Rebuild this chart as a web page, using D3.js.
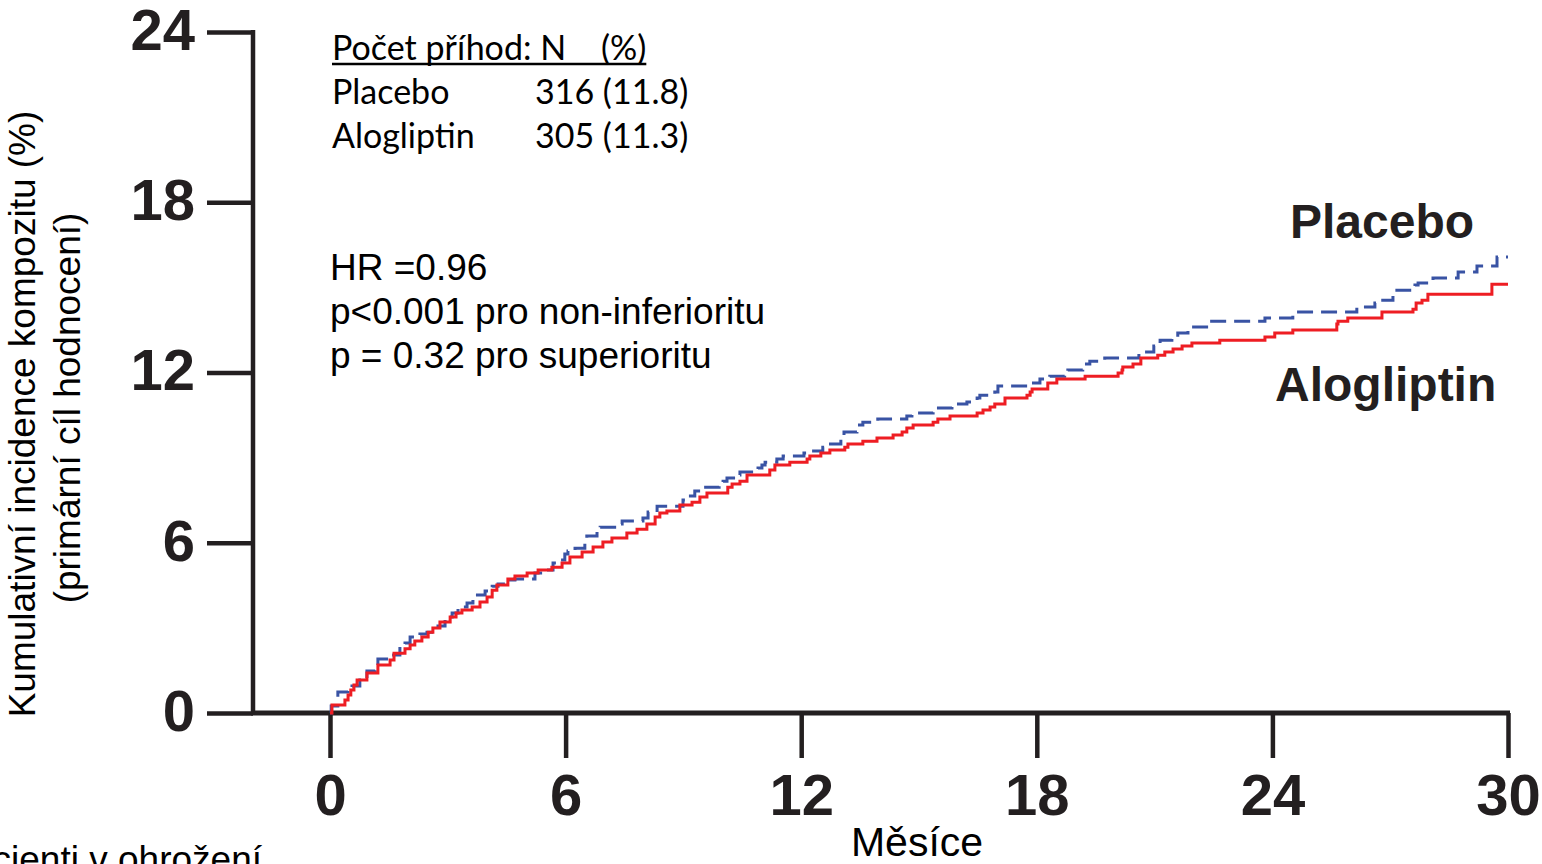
<!DOCTYPE html>
<html>
<head>
<meta charset="utf-8">
<script src="https://cdn.jsdelivr.net/npm/d3@7"></script>
<style>
body{margin:0;background:#fff;}
svg{display:block;}
</style>
</head>
<body>
<div id="chart"></div>
<script>
// osa x: měsíce, osa y: kumulativní incidence (%)
var xTicks = [0, 6, 12, 18, 24, 30];
var yTicks = [0, 6, 12, 18, 24];

// Placebo - schodovitá křivka (čtená z obrázku)
var placeboMonths = [0,0.03,0.20,0.46,0.56,0.76,0.94,1.15,1.22,1.53,1.78,1.91,2.04,2.29,2.47,2.75,2.93,3.11,3.26,3.49,3.64,3.95,4.13,4.28,4.53,4.71,5.22,5.47,5.68,5.78,5.98,6.06,6.24,6.49,6.54,6.80,6.88,7.31,7.44,7.97,8.10,8.33,8.99,9.07,9.29,9.50,9.91,10.01,10.11,10.36,10.44,10.90,11.00,11.08,11.38,11.54,12.07,12.17,12.55,12.66,13.01,13.09,13.42,13.57,13.95,14.69,14.82,15.36,15.41,15.84,16.22,16.48,16.55,16.93,17.01,17.77,18.08,18.33,18.71,18.79,19.17,19.35,19.73,20.60,20.98,21.14,21.44,21.59,21.85,22.41,23.81,24.52,26.15,26.61,26.81,27.07,27.17,27.63,27.71,28.09,28.73,29.21,29.72,30];
var placeboRisk = [0,0.25,0.74,0.85,0.95,1.16,1.48,1.66,1.90,2.04,2.33,2.47,2.68,2.78,2.85,3.07,3.38,3.52,3.74,3.88,4.16,4.30,4.47,4.55,4.69,4.72,4.93,5.04,5.29,5.39,5.60,5.71,5.81,6.10,6.24,6.45,6.55,6.66,6.77,6.87,7.08,7.29,7.51,7.65,7.82,7.96,8.07,8.17,8.28,8.39,8.49,8.63,8.74,8.84,8.95,9.06,9.16,9.23,9.37,9.48,9.73,9.90,10.15,10.25,10.36,10.47,10.57,10.68,10.75,10.89,10.96,11.10,11.20,11.31,11.52,11.63,11.77,11.87,11.98,12.09,12.30,12.40,12.51,12.72,12.93,13.14,13.25,13.39,13.60,13.81,13.92,14.13,14.31,14.45,14.55,14.80,14.90,15.08,15.15,15.33,15.54,15.75,16.07,16.07];

// Alogliptin
var alogliptinMonths = [0,0.05,0.38,0.46,0.53,0.61,0.69,0.94,1.22,1.53,1.63,1.91,2.04,2.16,2.34,2.50,2.62,2.80,3.06,3.21,3.36,3.62,3.82,4.00,4.13,4.25,4.53,4.71,5.02,5.30,5.65,5.91,6.11,6.42,6.70,6.95,7.18,7.56,7.82,8.07,8.28,8.40,8.58,8.91,9.22,9.42,9.60,10.13,10.24,10.44,10.62,11.20,11.33,11.71,12.15,12.22,12.50,12.73,13.11,13.19,13.57,13.93,14.34,14.57,14.69,14.85,15.36,15.48,15.79,16.48,16.63,16.81,16.93,17.19,17.75,17.83,17.88,18.28,18.51,19.23,20.07,20.17,20.19,20.45,20.65,21.08,21.26,21.47,21.70,21.95,22.66,23.81,24.06,24.52,25.64,25.67,25.92,26.79,27.58,27.66,27.81,27.96,29.59,30];
var alogliptinRisk = [0,0.28,0.46,0.63,0.81,0.99,1.16,1.41,1.69,1.87,2.11,2.26,2.40,2.54,2.68,2.85,3.00,3.21,3.38,3.52,3.63,3.74,3.91,4.09,4.33,4.51,4.72,4.83,4.93,5.04,5.14,5.29,5.50,5.67,5.85,6.03,6.17,6.34,6.48,6.66,6.91,7.05,7.12,7.33,7.43,7.61,7.75,7.96,8.07,8.17,8.39,8.56,8.74,8.84,8.95,9.06,9.16,9.27,9.37,9.48,9.58,9.69,9.80,9.90,10.04,10.15,10.25,10.36,10.47,10.57,10.68,10.78,10.89,11.10,11.20,11.31,11.42,11.63,11.77,11.87,11.98,12.09,12.19,12.30,12.51,12.61,12.72,12.83,12.93,13.04,13.14,13.25,13.39,13.50,13.71,13.81,13.92,14.13,14.23,14.45,14.55,14.76,15.11,15.11];

var tableRows = [["Placebo", "316 (11.8)"], ["Alogliptin", "305 (11.3)"]];
var statLines = ["HR =0.96", "p<0.001 pro non-inferioritu", "p = 0.32 pro superioritu"];

var ink = "#231f20";
var svg = d3.select("#chart").append("svg").attr("width", 1542).attr("height", 864);
svg.append("rect").attr("width", 1542).attr("height", 864).attr("fill", "#fff");

var x = d3.scaleLinear().domain([0, 30]).range([330, 1508]);
var y = d3.scaleLinear().domain([0, 24]).range([713, 32]);

// osa y
var yAxis = svg.append("g").attr("transform", "translate(253,0)")
    .call(d3.axisLeft(y).tickValues(yTicks).tickSize(46).tickPadding(12));
yAxis.select(".domain").remove();
yAxis.selectAll("line").attr("stroke", ink).attr("stroke-width", 4.5);
yAxis.selectAll("text")
    .attr("font-family", "'Liberation Sans', Arial, sans-serif")
    .attr("font-weight", "bold").attr("font-size", 58)
    .attr("fill", ink).attr("dy", "0.3em");
svg.append("line").attr("x1", 253).attr("x2", 253).attr("y1", 30).attr("y2", 715)
    .attr("stroke", ink).attr("stroke-width", 4.5);

// osa x
var xAxis = svg.append("g").attr("transform", "translate(0,713)")
    .call(d3.axisBottom(x).tickValues(xTicks).tickSize(45));
xAxis.select(".domain").remove();
xAxis.selectAll("line").attr("stroke", ink).attr("stroke-width", 4.5);
xAxis.selectAll("text")
    .attr("font-family", "'Liberation Sans', Arial, sans-serif")
    .attr("font-weight", "bold").attr("font-size", 58)
    .attr("fill", ink).attr("y", 102).attr("dy", 0);
svg.append("line").attr("x1", 251).attr("x2", 1510).attr("y1", 713).attr("y2", 713)
    .attr("stroke", ink).attr("stroke-width", 5);

// křivky
var line = d3.line().x(function(d){ return x(d[0]); }).y(function(d){ return y(d[1]); })
    .curve(d3.curveStepAfter);
var placeboData = placeboMonths.map(function(m, i){ return [m, placeboRisk[i]]; });
var alogliptinData = alogliptinMonths.map(function(m, i){ return [m, alogliptinRisk[i]]; });

svg.append("path").datum(placeboData).attr("d", line)
    .attr("fill", "none").attr("stroke", "#3953a4").attr("stroke-width", 3)
    .attr("stroke-dasharray", "16,8");
svg.append("path").datum(alogliptinData).attr("d", line)
    .attr("fill", "none").attr("stroke", "#ee1d23").attr("stroke-width", 3);

// popisky křivek
svg.append("text").attr("x", 1290).attr("y", 238).text("Placebo")
    .attr("font-family", "'Liberation Sans', Arial, sans-serif")
    .attr("font-weight", "bold").attr("font-size", 48).attr("fill", ink);
svg.append("text").attr("x", 1275).attr("y", 401).text("Alogliptin")
    .attr("font-family", "'Liberation Sans', Arial, sans-serif")
    .attr("font-weight", "bold").attr("font-size", 48).attr("fill", ink);

// tabulka příhod
var tbl = svg.append("g").attr("font-family", "Lato, 'Open Sans', sans-serif")
    .attr("font-size", 34).attr("fill", "#000");
var head = tbl.append("text").attr("x", 332).attr("y", 60).attr("xml:space", "preserve")
    .text("Počet příhod: N    (%)");
var headW = head.node().getComputedTextLength();
tbl.append("line").attr("x1", 332).attr("x2", 332 + headW).attr("y1", 64).attr("y2", 64)
    .attr("stroke", "#000").attr("stroke-width", 2.5);
tableRows.forEach(function(r, i){
    tbl.append("text").attr("x", 332).attr("y", 104 + i * 44).text(r[0]);
    tbl.append("text").attr("x", 535).attr("y", 104 + i * 44).text(r[1]);
});

// statistika
var st = svg.append("g").attr("font-family", "'Liberation Sans', Arial, sans-serif")
    .attr("font-size", 37).attr("fill", "#000");
statLines.forEach(function(t, i){
    st.append("text").attr("x", 330).attr("y", 280 + i * 44).text(t);
});

// popisy os
var lab = svg.append("g").attr("font-family", "'Liberation Sans', Arial, sans-serif")
    .attr("fill", "#000");
lab.append("text").attr("transform", "translate(35,414) rotate(-90)")
    .attr("text-anchor", "middle").attr("font-size", 37)
    .text("Kumulativní incidence kompozitu (%)");
lab.append("text").attr("transform", "translate(80,408) rotate(-90)")
    .attr("text-anchor", "middle").attr("font-size", 37)
    .text("(primární cíl hodnocení)");
lab.append("text").attr("x", 917).attr("y", 856).attr("text-anchor", "middle")
    .attr("font-size", 41).text("Měsíce");
lab.append("text").attr("x", 262).attr("y", 872).attr("text-anchor", "end")
    .attr("font-size", 37).text("Pacienti v ohrožení");
</script>
</body>
</html>
